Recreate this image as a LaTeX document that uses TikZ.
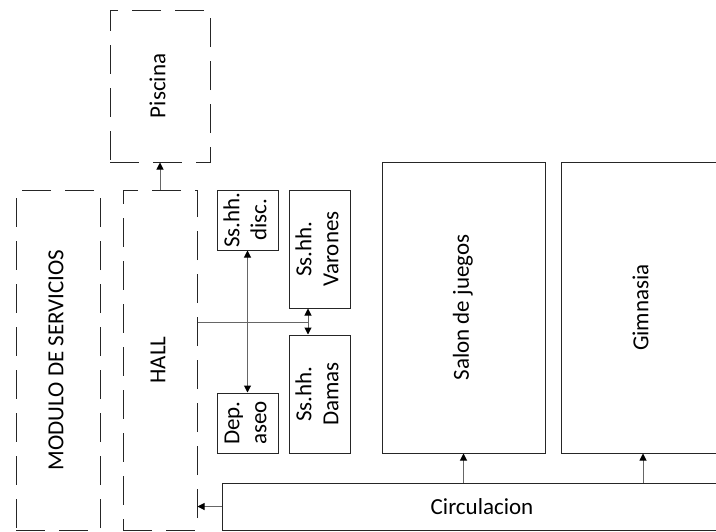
\documentclass[tikz,border=0pt]{standalone}
\usepackage{fontspec}
\setmainfont{Carlito}
\usetikzlibrary{arrows.meta, positioning}

\newcommand{\vlabel}[1]{\rotatebox{90}{\begin{tabular}{@{}c@{}}#1\end{tabular}}}

\begin{document}
\begin{tikzpicture}[
    x=1pt, y=-1pt,
    room/.style={rectangle, draw=black!85, line width=1pt, inner sep=0pt,
                 font=\fontsize{23}{27}\selectfont},
    openroom/.style={room, dash pattern=on 29pt off 14pt},
    link/.style={draw=black!60, line width=1pt,
                 -{Triangle[length=7pt,width=7pt,color=black]}},
    twoway/.style={link,
                 {Triangle[length=7pt,width=7pt,color=black]}-{Triangle[length=7pt,width=7pt,color=black]}}
]
\useasboundingbox (0,0) rectangle (716,531);
\clip (0,0) rectangle (716,531);

% zonas abiertas
\node[openroom, minimum width=100pt, minimum height=152pt] (piscina) at (160,86) {\vlabel{Piscina}};
\node[openroom, minimum width=84pt, minimum height=340pt] (modulo) at (58,360) {\vlabel{MODULO DE SERVICIOS}};
\node[openroom, minimum width=74pt, minimum height=340pt] (hall) at (160,360) {\vlabel{HALL}};

% servicios
\node[room, minimum width=61pt, minimum height=60pt] (disc) at (247.5,220) {\vlabel{Ss.hh.\\disc.}};
\node[room, minimum width=61pt, minimum height=118pt] (varones) at (319.5,249) {\vlabel{Ss.hh.\\Varones}};
\node[room, minimum width=61pt, minimum height=118pt] (damas) at (319.5,394) {\vlabel{Ss.hh.\\Damas}};
\node[room, minimum width=61pt, minimum height=60pt] (aseo) at (247.5,423) {\vlabel{Dep.\\aseo}};

% salas
\node[room, minimum width=163pt, minimum height=291pt] (salon) at (463.5,307.5) {\vlabel{Salon de juegos}};
\node[room, minimum width=164pt, minimum height=291pt] (gimnasia) at (643,307.5) {\vlabel{Gimnasia}};
\node[room, minimum width=520pt, minimum height=47pt] (circ) at (482,506.5) {Circulacion};

\coordinate (junc) at (308,322);

\draw[link] (hall.north) -- (piscina.south);
\draw[twoway] (disc.south) -- (aseo.north);
\draw[draw=black!60, line width=1pt] (hall.east |- junc) -- (junc);
\draw[twoway] (varones.south -| junc) -- (damas.north -| junc);
\draw[link] (circ.west) -- (circ.west -| hall.east);
\draw[link] (salon.south |- circ.north) -- (salon.south);
\draw[link] (gimnasia.south |- circ.north) -- (gimnasia.south);
\end{tikzpicture}
\end{document}
